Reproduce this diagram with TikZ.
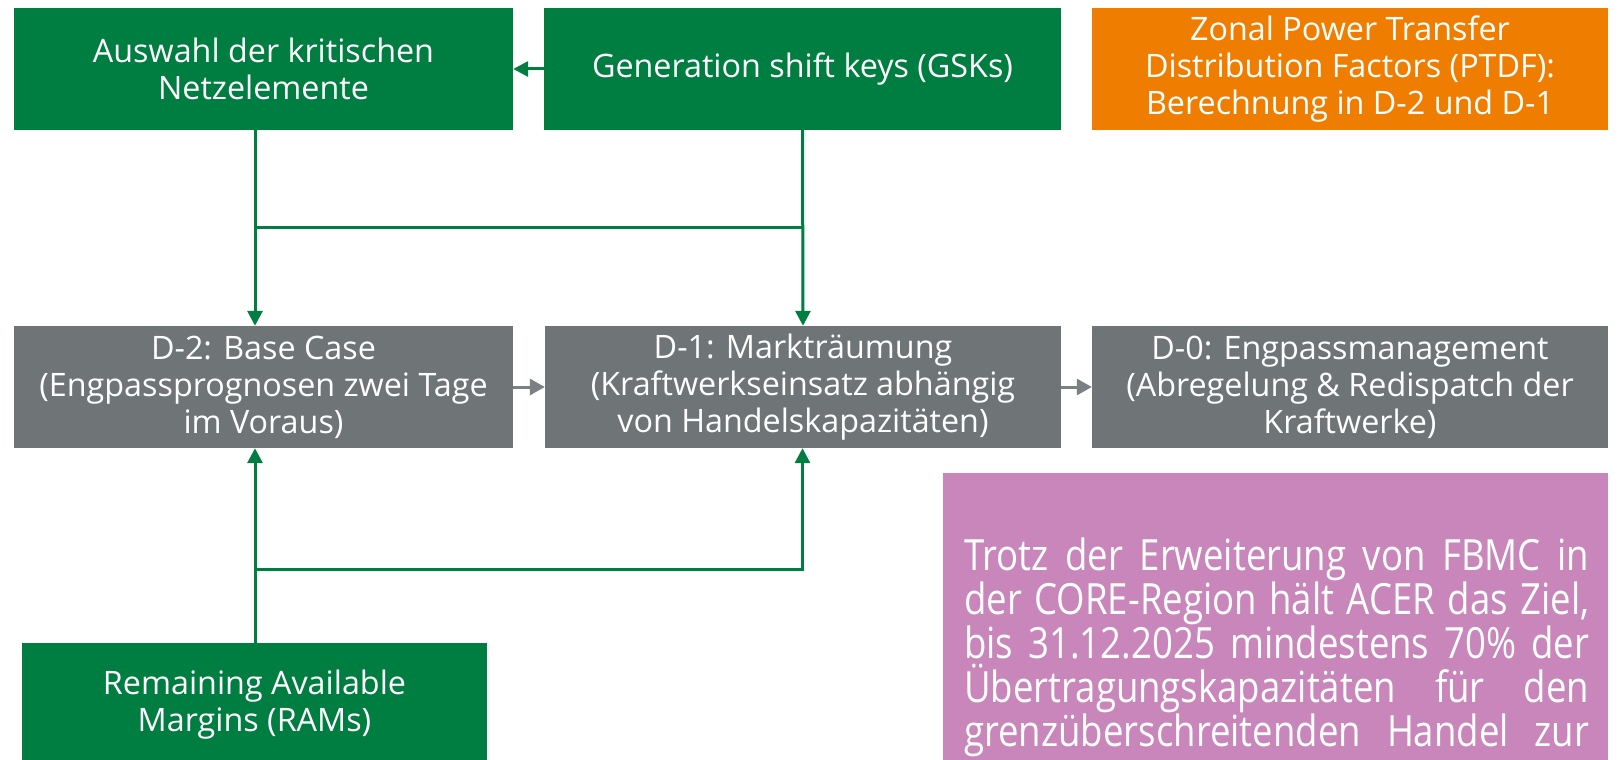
\documentclass[tikz,border=0pt]{standalone}
\usepackage{fontspec}
\setmainfont{Open Sans}
\newfontfamily\condfont[FakeStretch=0.85]{Open Sans}
\usetikzlibrary{arrows.meta}
\definecolor{fgreen}{HTML}{007D40}
\definecolor{fgray}{HTML}{6F7477}
\definecolor{fgrayarrow}{HTML}{7A8083}
\definecolor{forange}{HTML}{EF7D00}
\definecolor{fpurple}{HTML}{C886BB}
\begin{document}
\begin{tikzpicture}[x=1pt,y=-1pt,
  boxbase/.style={inner sep=0pt, text=white, align=center,
    font=\fontsize{32.3}{37}\selectfont, minimum width=499pt, minimum height=122pt},
  greenbox/.style={boxbase, fill=fgreen},
  graybox/.style={boxbase, fill=fgray},
  orangebox/.style={boxbase, fill=forange},
  gline/.style={draw=fgreen, line width=3pt},
  garrow/.style={gline, -{Triangle[length=15pt,width=15pt]}},
  grarrow/.style={draw=fgrayarrow, line width=3pt, -{Triangle[length=15pt,width=16pt]}}]
\useasboundingbox (0,0) rectangle (1618,760);
\clip (0,0) rectangle (1618,760);
\fill[white] (0,0) rectangle (1618,760);
% top row
\node[greenbox] (aus) at (263.5,69) {Auswahl der kritischen\\Netzelemente};
\node[greenbox, minimum width=517pt] (gsk) at (802.5,69) {Generation shift keys (GSKs)};
\node[orangebox, minimum width=516pt] (ptdf) at (1350,69) {Zonal Power Transfer\\Distribution Factors (PTDF):\\Berechnung in D-2 und D-1};
% middle row
\node[graybox] (d2) at (263.5,387) {D-2: Base Case\\(Engpassprognosen zwei Tage\\im Voraus)};
\node[graybox, minimum width=516pt] (d1) at (803,387) {D-1: Markträumung\\(Kraftwerkseinsatz abhängig\\von Handelskapazitäten)};
\node[graybox, minimum width=516pt] (d0) at (1350,387) {D-0: Engpassmanagement\\(Abregelung \& Redispatch der\\Kraftwerke)};
% bottom
\node[greenbox, minimum width=465pt, minimum height=124pt] (ram) at (254.5,705) {Remaining Available\\Margins (RAMs)};
\node[fill=fpurple, inner sep=0pt, minimum width=665pt, minimum height=320pt, anchor=north west] (note) at (943,473) {};
\node[anchor=base west, inner sep=0pt, text=white, align=left,
  font=\condfont\fontsize{43}{44}\selectfont] (notetxt) at (964,746) {%
  \makebox[625pt][s]{Trotz der Erweiterung von FBMC in}\\
  \makebox[625pt][s]{der CORE-Region hält ACER das Ziel,}\\
  \makebox[625pt][s]{bis 31.12.2025 mindestens 70\% der}\\
  \makebox[625pt][s]{Übertragungskapazitäten für den}\\
  \makebox[625pt][s]{grenzüberschreitenden Handel zur}};
% junctions
\coordinate (j1) at (255,227);
\coordinate (j2) at (802.5,227);
\coordinate (j3) at (255,569);
\coordinate (j4) at (802.5,569);
% connectors
\draw[garrow] (gsk.west) -- (aus.east);
\draw[garrow] (aus.south -| j1) -- (d2.north -| j1);
\draw[garrow] (gsk.south) -- (d1.north);
\draw[gline] (j1) -- (j2);
\draw[garrow] (ram.north -| j3) -- (d2.south -| j3);
\draw[garrow, line join=miter] (j3) -- (j4) -- (d1.south -| j4);
\draw[grarrow] (d2.east) -- (d1.west);
\draw[grarrow] (d1.east) -- (d0.west);
\end{tikzpicture}
\end{document}
